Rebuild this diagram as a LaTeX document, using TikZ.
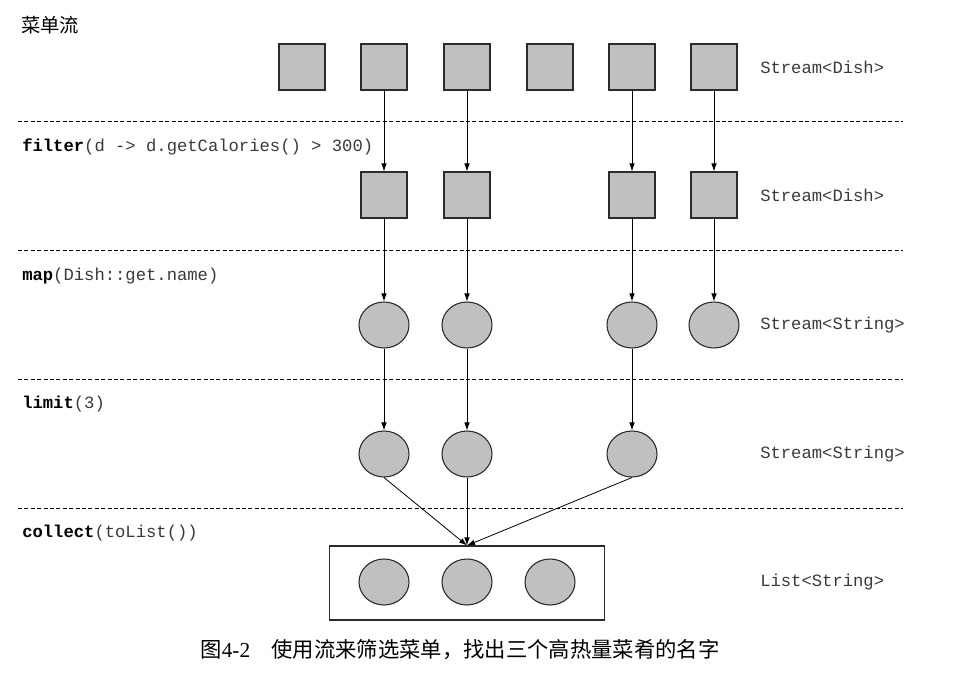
\documentclass[tikz,border=0pt]{standalone}
\usepackage{fontspec}
\setmainfont{Liberation Serif}
\setmonofont{Liberation Mono}
\newfontfamily\cjk{Noto Sans CJK SC}
\usepackage{tikz}
\usetikzlibrary{arrows.meta,shapes.geometric}
\definecolor{dishgray}{HTML}{C0C0C0}
\definecolor{edgedark}{HTML}{2B2B2B}
\definecolor{codegray}{HTML}{3A3A3A}
\tikzset{every node/.append style={inner sep=0pt}}

\begin{document}
\begin{tikzpicture}[x=0.75pt,y=-0.75pt,>={Latex[length=6pt,width=4.2pt]},
  dishbox/.style={draw=edgedark,fill=dishgray,line width=0.8pt,minimum size=34.5pt},
  strbub/.style={ellipse,draw=edgedark,fill=dishgray,line width=0.8pt,
    minimum width=37.5pt,minimum height=34.5pt},
  stagesep/.style={dash pattern=on 3pt off 1.8pt,line width=0.6pt},
  oplabel/.style={anchor=west,text=codegray,font=\ttfamily\fontsize{12.9}{14}\selectfont},
  typelabel/.style={anchor=west,text=codegray,font=\ttfamily\fontsize{12.9}{14}\selectfont},
  flow/.style={->,line width=0.6pt}]
  \useasboundingbox (0,0) rectangle (959,675);
  \node[anchor=west,font=\cjk\fontsize{14.5}{16}\selectfont] (title) at (21,25) {菜单流};
  % stage separators
  \foreach \y in {121,250,379,508}
    \draw[stagesep] (18,\y) -- (903,\y);
  % the menu
  \node[dishbox] (s1) at (302,67) {};
  \node[dishbox] (s2) at (384,67) {};
  \node[dishbox] (s3) at (467,67) {};
  \node[dishbox] (s4) at (550,67) {};
  \node[dishbox] (s5) at (632,67) {};
  \node[dishbox] (s6) at (714,67) {};
  \node[typelabel] (t1) at (760,67) {Stream<Dish>};
  % filter
  \node[oplabel] (op1) at (22,147) {\textcolor{black}{\textbf{filter}}(d -> d.getCalories() > 300)};
  \node[dishbox] (f1) at (384,195) {};
  \node[dishbox] (f2) at (467,195) {};
  \node[dishbox] (f3) at (632,195) {};
  \node[dishbox] (f4) at (714,195) {};
  \node[typelabel] (t2) at (760,195) {Stream<Dish>};
  % map
  \node[oplabel] (op2) at (22,276) {\textcolor{black}{\textbf{map}}(Dish::get.name)};
  \node[strbub] (m1) at (384,325) {};
  \node[strbub] (m2) at (467,325) {};
  \node[strbub] (m3) at (632,325) {};
  \node[strbub] (m4) at (714,325) {};
  \node[typelabel] (t3) at (760,325) {Stream<String>};
  % limit
  \node[oplabel] (op3) at (22,404) {\textcolor{black}{\textbf{limit}}(3)};
  \node[strbub] (l1) at (384,454) {};
  \node[strbub] (l2) at (467,454) {};
  \node[strbub] (l3) at (632,454) {};
  \node[typelabel] (t4) at (760,454) {Stream<String>};
  % collect
  \node[oplabel] (op4) at (22,533) {\textcolor{black}{\textbf{collect}}(toList())};
  \node[draw=edgedark,line width=0.8pt,minimum width=206.25pt,minimum height=55.5pt]
    (result) at (467,583) {};
  \node[strbub] (c1) at (384,582) {};
  \node[strbub] (c2) at (467,582) {};
  \node[strbub] (c3) at (550,582) {};
  \node[typelabel] (t5) at (760,582) {List<String>};
  % arrows
  \draw[flow] (s2) -- (f1);
  \draw[flow] (s3) -- (f2);
  \draw[flow] (s5) -- (f3);
  \draw[flow] (s6) -- (f4);
  \draw[flow] (f1) -- (m1);
  \draw[flow] (f2) -- (m2);
  \draw[flow] (f3) -- (m3);
  \draw[flow] (f4) -- (m4);
  \draw[flow] (m1) -- (l1);
  \draw[flow] (m2) -- (l2);
  \draw[flow] (m3) -- (l3);
  \draw[flow] (l1.south) -- (result.north);
  \draw[flow] (l2.south) -- (result.north);
  \draw[flow] (l3.south) -- (result.north);
  \node[font=\fontsize{16}{18}\selectfont] (caption) at (460,650)
    {{\cjk 图}4-2\hspace{1em}{\cjk 使用流来筛选菜单，找出三个高热量菜肴的名字}};
\end{tikzpicture}
\end{document}
